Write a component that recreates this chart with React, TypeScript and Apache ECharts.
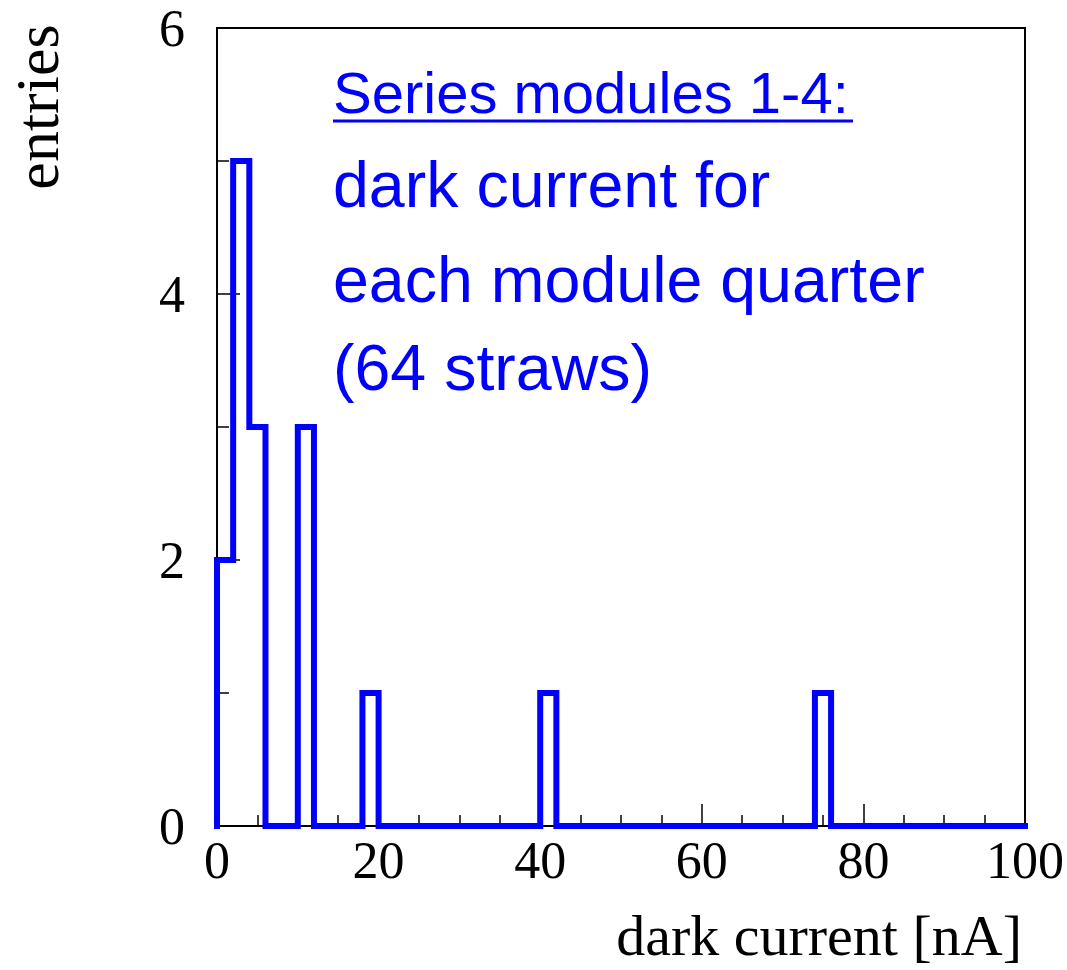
import React, { useEffect, useRef } from "react";
import * as echarts from "echarts";

// ---- data ----
const BIN_WIDTH = 2;
const X_MIN = 0;
const X_MAX = 100;
const Y_MIN = 0;
const Y_MAX = 6;
const binLowEdges = [0, 2, 4, 10, 18, 40, 74];
const binEntries = [2, 5, 3, 3, 1, 1, 1];
const xTickStep = 20;
const yTickStep = 2;
const annotationTitle = "Series modules 1-4:";
const annotationLines = ["dark current for", "each module quarter", "(64 straws)"];
const xTitle = "dark current [nA]";
const yTitle = "entries";

const BLUE = "#0000ff";
const SERIF = "'Liberation Serif', 'Times New Roman', serif";
const SANS = "'Liberation Sans', Arial, Helvetica, sans-serif";

function buildOutline(): number[][] {
  const nBins = Math.round((X_MAX - X_MIN) / BIN_WIDTH);
  const counts: number[] = new Array(nBins).fill(0);
  binLowEdges.forEach((e, i) => {
    counts[Math.round((e - X_MIN) / BIN_WIDTH)] = binEntries[i];
  });
  const pts: number[][] = [[X_MIN, 0]];
  counts.forEach((c, i) => pts.push([X_MIN + i * BIN_WIDTH, c]));
  pts.push([X_MAX, counts[nBins - 1]]);
  return pts;
}

export default function App() {
  const ref = useRef<HTMLDivElement>(null);

  useEffect(() => {
    if (!ref.current) return;
    const chart = echarts.init(ref.current, undefined, { renderer: "svg" });
    const tickLine = { color: "#000", width: 1.5 };
    const labelStyle = { fontFamily: SERIF, fontSize: 52, color: "#000" };

    chart.setOption({
      animation: false,
      backgroundColor: "#fff",
      grid: {
        left: 217,
        right: 39,
        top: 28,
        bottom: 144,
        show: true,
        borderColor: "#000",
        borderWidth: 2,
        backgroundColor: "transparent",
      },
      xAxis: {
        type: "value",
        min: X_MIN,
        max: X_MAX,
        interval: xTickStep,
        axisLine: { show: true, lineStyle: { color: "#000", width: 2 } },
        axisTick: { show: true, inside: true, length: 22, lineStyle: tickLine },
        minorTick: { show: true, splitNumber: 4, length: 11, lineStyle: tickLine },
        splitLine: { show: false },
        minorSplitLine: { show: false },
        axisLabel: { ...labelStyle, margin: 8 },
      },
      yAxis: {
        type: "value",
        min: Y_MIN,
        max: Y_MAX,
        interval: yTickStep,
        axisLine: { show: true, lineStyle: { color: "#000", width: 2 } },
        axisTick: { show: true, inside: true, length: 23, lineStyle: tickLine },
        minorTick: { show: true, splitNumber: 2, length: 12, lineStyle: tickLine },
        splitLine: { show: false },
        minorSplitLine: { show: false },
        axisLabel: { ...labelStyle, margin: 32 },
      },
      series: [
        {
          type: "line",
          data: buildOutline(),
          step: "end",
          symbol: "none",
          clip: false,
          lineStyle: { color: BLUE, width: 6, join: "miter", cap: "square" },
          z: 3,
        },
      ],
      graphic: [
        {
          type: "text",
          x: 333,
          y: 113 - 0.3465 * 58,
          style: {
            text: annotationTitle,
            fontFamily: SANS,
            fontSize: 58,
            fill: BLUE,
            textAlign: "left",
            textVerticalAlign: "middle",
          },
        },
        {
          type: "line",
          shape: { x1: 333, y1: 121, x2: 853, y2: 121 },
          style: { stroke: BLUE, lineWidth: 3 },
        },
        ...annotationLines.map((t, i) => ({
          type: "text",
          x: 333,
          y: [207, 302, 390][i] - 0.3465 * 64.5,
          style: {
            text: t,
            fontFamily: SANS,
            fontSize: 64.5,
            fill: BLUE,
            textAlign: "left",
            textVerticalAlign: "middle",
          },
        })),
        {
          type: "text",
          x: 1022,
          y: 955 - 0.3375 * 58,
          style: {
            text: xTitle,
            fontFamily: SERIF,
            fontSize: 58,
            fill: "#000",
            textAlign: "right",
            textVerticalAlign: "middle",
          },
        },
        {
          type: "text",
          x: 37,
          y: 107,
          rotation: Math.PI / 2,
          style: {
            text: yTitle,
            fontFamily: SERIF,
            fontSize: 62,
            fill: "#000",
            textAlign: "center",
            textVerticalAlign: "middle",
          },
        },
      ],
    });
    return () => chart.dispose();
  }, []);

  return (
    <div
      ref={ref}
      style={{ position: "absolute", left: 0, top: 0, width: 1067, height: 970, background: "#fff" }}
    />
  );
}
